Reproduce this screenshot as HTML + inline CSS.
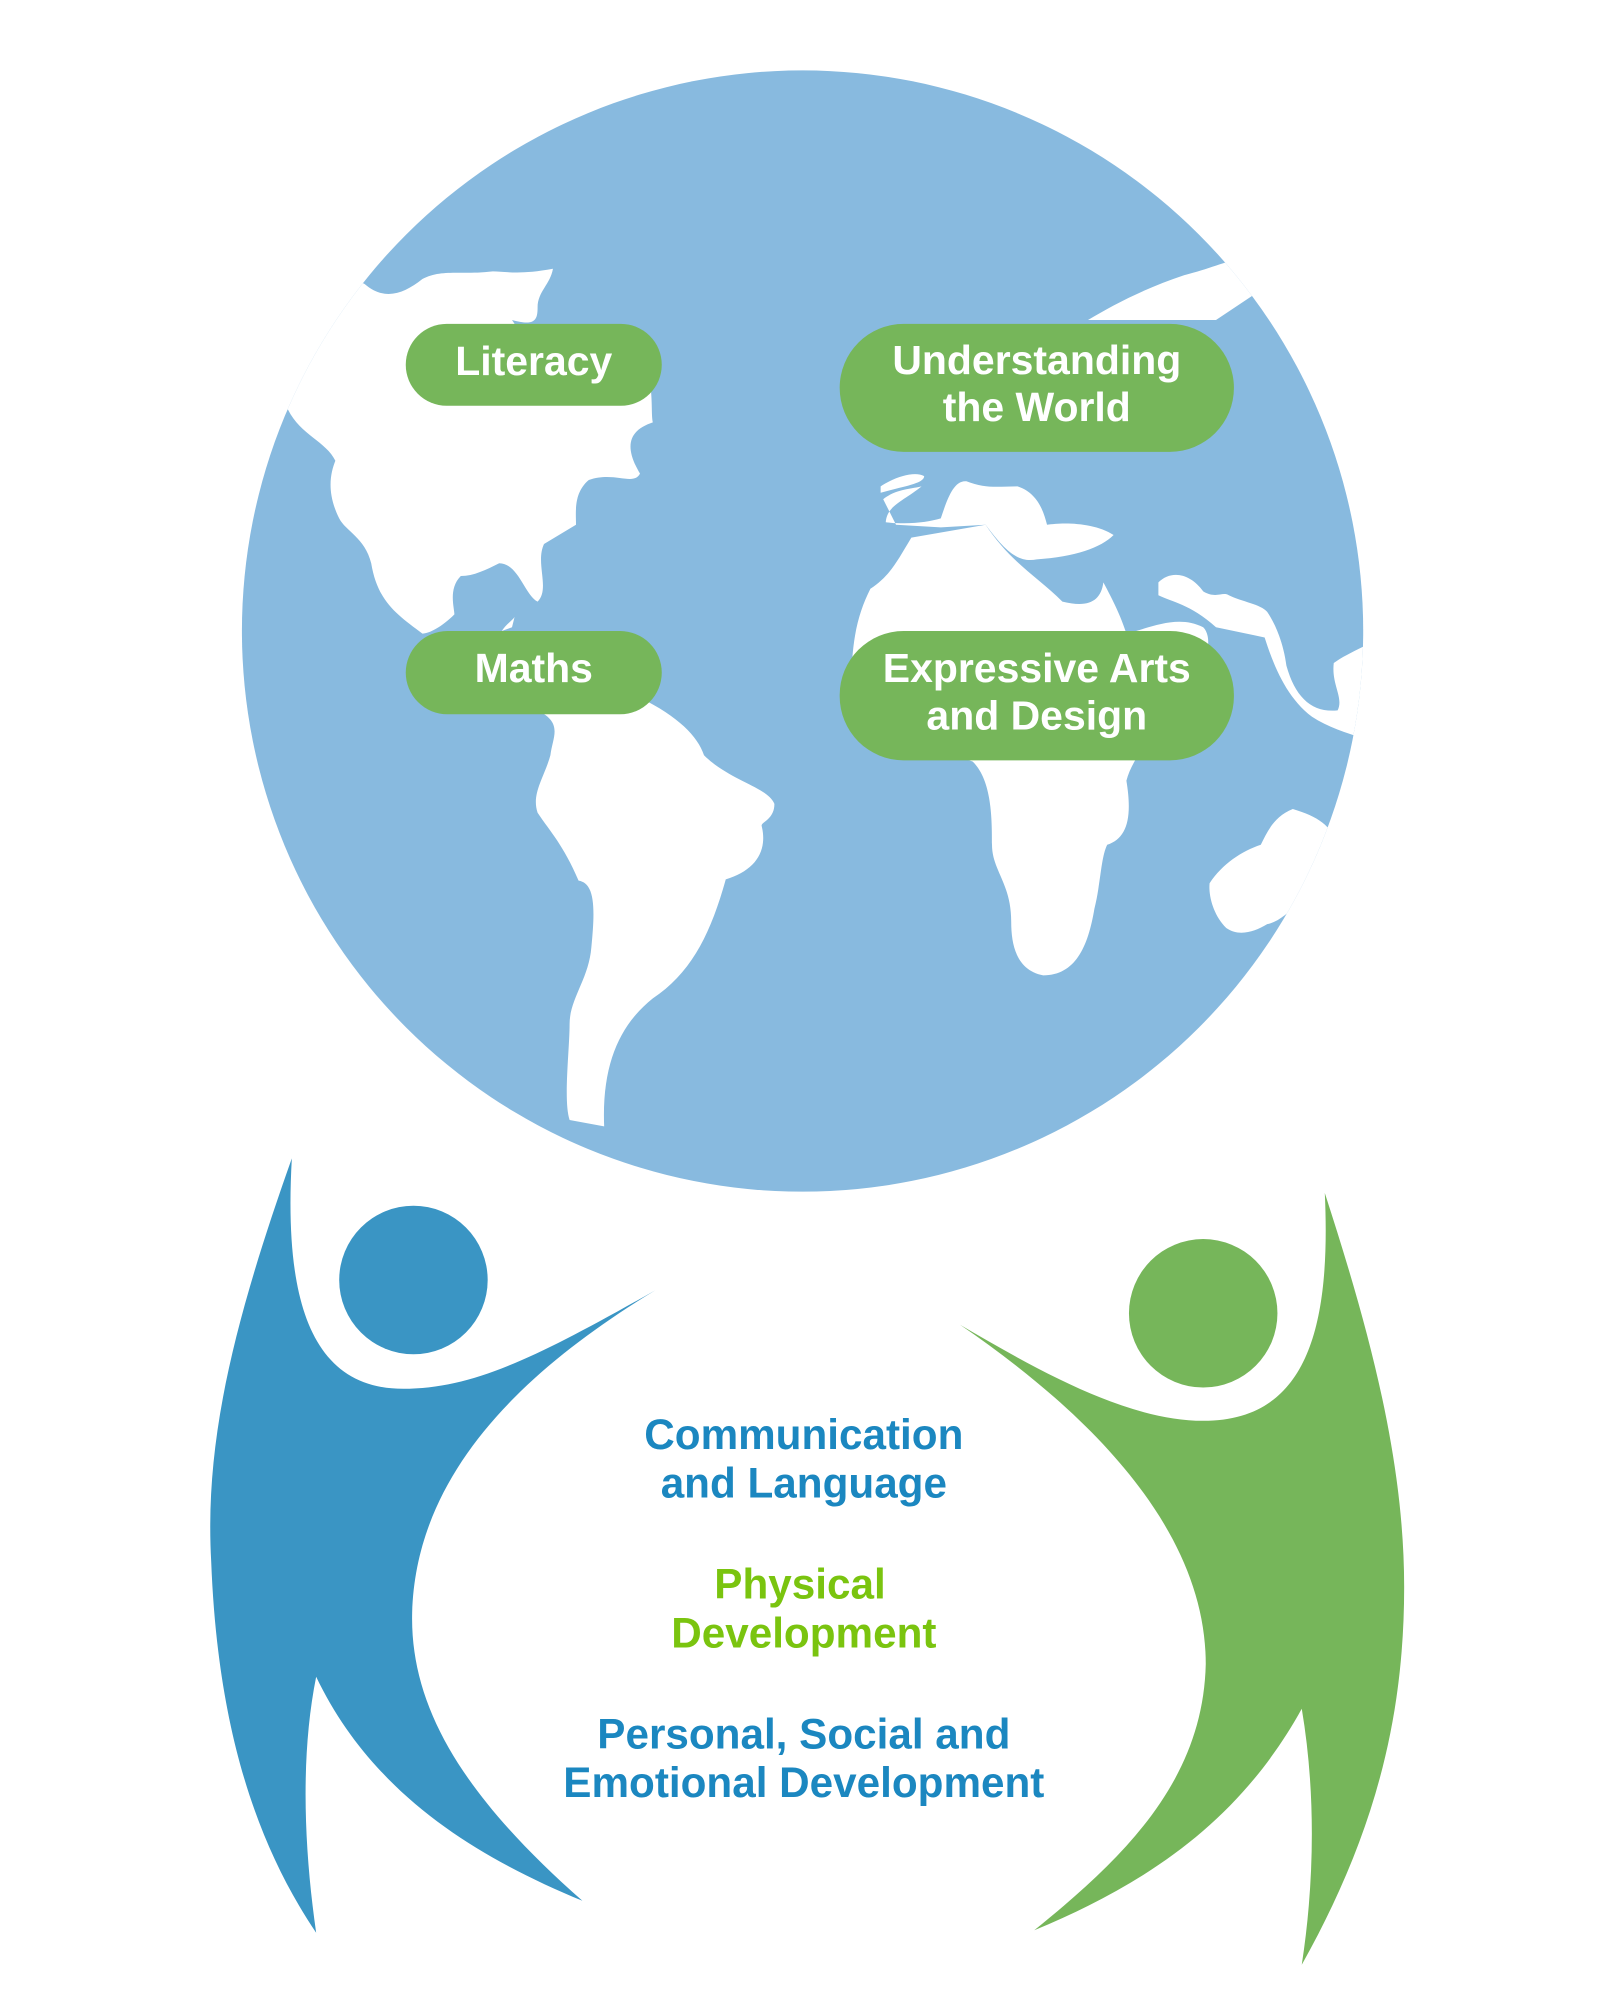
<!DOCTYPE html>
<html><head><meta charset="utf-8"><style>
html,body{margin:0;padding:0;background:#fff;width:1600px;height:2000px;overflow:hidden}
svg{display:block}
</style></head><body>
<svg width="1600" height="2000" viewBox="0 0 1250 1562.5" xmlns="http://www.w3.org/2000/svg">
<defs><clipPath id="g"><circle cx="627" cy="493" r="438"/></clipPath></defs>
<circle cx="627" cy="493" r="438" fill="#88badf"/>
<g clip-path="url(#g)" fill="#fff">
<path d="M150,150 L285,222 C300,235 315,230 330,218 C345,210 360,215 385,212 C395,212 405,215 432,210 C430,222 420,228 420,240 C420,250 418,255 400,250 L420,280 C440,265 470,262 500,270 C512,300 508,320 510,330 C495,335 485,345 500,370 C495,380 480,368 460,375 C448,385 450,400 450,410 L425,425 C418,440 430,460 420,470 C410,465 405,440 390,440 C380,445 370,450 360,450 C350,460 355,475 355,480 C345,490 335,495 330,495 C310,480 295,470 290,440 C285,420 270,415 265,405 C255,385 258,370 262,360 C255,345 235,340 225,320 L150,320 Z"/>
<path d="M392,493 C395,488 400,485 402,482 L400,490 Z"/>
<path d="M420,555 L500,545 C530,560 545,575 550,590 C570,610 600,615 605,628 C605,640 595,642 595,645 C600,665 590,680 567,687 C555,730 540,760 510,780 C485,800 470,830 472,880 L445,875 C440,860 445,820 445,800 C445,780 460,765 462,740 C465,710 465,690 452,688 C440,660 430,650 420,635 C415,620 425,608 430,590 C432,575 440,565 420,555 Z"/>
<path d="M850,250 C870,238 895,225 925,215 C945,210 955,205 975,200 L990,200 L980,230 L950,250 Z"/>
<path d="M688,380 C700,372 715,368 722,372 C722,378 705,380 688,385 Z"/>
<path d="M690,390 C700,382 712,382 720,380 C705,392 693,395 692,408 C710,410 725,408 735,405 C740,390 745,375 755,376 C770,382 780,380 795,380 C810,385 815,398 818,410 C830,408 855,408 870,418 C860,428 840,435 810,437 C795,440 785,430 770,410 L735,412 L700,410 Z"/>
<path d="M712,420 L770,410 C790,440 810,450 830,470 C850,475 860,470 862,455 C870,470 875,480 880,495 C900,490 920,480 940,490 C950,500 940,530 920,550 C905,570 885,590 880,610 C885,640 880,655 865,660 C860,670 860,690 855,710 C850,740 840,762 815,762 C795,758 790,740 790,720 C790,690 775,680 775,660 C775,640 775,610 760,595 C720,580 680,570 665,540 C665,500 670,480 680,460 C695,450 700,440 712,420 Z"/>
<path d="M905,455 C915,445 930,448 940,462 C950,468 955,462 960,465 C970,470 985,472 990,478 C998,490 1003,505 1005,520 C1012,545 1025,557 1045,555 C1050,545 1040,535 1042,518 C1050,512 1060,508 1075,500 L1075,580 C1060,575 1040,570 1025,560 C1005,545 995,520 988,498 L950,490 C930,472 915,470 905,465 Z"/>
<path d="M945,690 C955,675 970,665 985,660 C990,650 995,638 1010,632 C1030,638 1040,645 1045,660 L1020,700 C1010,710 1000,720 990,722 C980,728 968,732 958,725 C948,715 944,700 945,690 Z"/>
</g>
<g fill="#76b65a">
<rect x="317" y="253" width="200" height="64" rx="32"/>
<rect x="656" y="253" width="308" height="100" rx="50"/>
<rect x="317" y="493" width="200" height="65" rx="32.5"/>
<rect x="656" y="493" width="308" height="101" rx="50"/>
</g>
<g font-family="Liberation Sans, sans-serif" font-weight="bold" fill="#fff" text-anchor="middle" font-size="32">
<text x="417" y="293">Literacy</text>
<text x="810" y="292">Understanding</text>
<text x="810" y="329">the World</text>
<text x="417" y="533">Maths</text>
<text x="810" y="533">Expressive Arts</text>
<text x="810" y="570">and Design</text>
</g>
<path fill="#3a95c4" d="M228,905 C180,1040 160,1130 165,1220 C170,1350 200,1440 247,1510 C237,1440 235,1370 247,1310 C290,1400 370,1450 455,1485 C370,1410 320,1340 322,1260 C325,1150 410,1070 512,1008 C420,1060 370,1085 315,1085 C240,1085 222,1010 228,905 Z"/>
<circle cx="323" cy="1000" r="58" fill="#3a95c4"/>
<path fill="#76b65a" d="M1035,932 C1040,1040 1020,1110 940,1110 C880,1110 810,1070 750,1035 C860,1110 942,1200 942,1300 C940,1390 880,1450 808,1508 C900,1470 970,1420 1017,1335 C1028,1400 1027,1470 1017,1535 C1070,1440 1097,1350 1097,1240 C1097,1140 1070,1040 1035,932 Z"/>
<circle cx="940" cy="1026" r="58" fill="#76b65a"/>
<g font-family="Liberation Sans, sans-serif" font-weight="bold" text-anchor="middle" font-size="33">
<text x="628" y="1132" fill="#1b87c0">Communication</text>
<text x="628" y="1170" fill="#1b87c0">and Language</text>
<text x="625" y="1249" fill="#7ac40f">Physical</text>
<text x="628" y="1287" fill="#7ac40f">Development</text>
<text x="628" y="1366" fill="#1b87c0">Personal, Social and</text>
<text x="628" y="1404" fill="#1b87c0">Emotional Development</text>
</g>
</svg>
</body></html>
